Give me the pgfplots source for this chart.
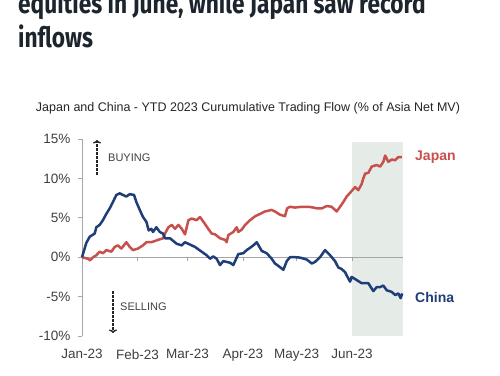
\documentclass[border=0pt]{standalone}
\usepackage{pgfplots}
\pgfplotsset{compat=1.18}
\usepackage{fontspec}
\setmainfont{Liberation Sans}
\newfontfamily\headfont{Fira Sans}
\usetikzlibrary{arrows.meta}
\definecolor{chinablue}{HTML}{1F3D78}
\definecolor{japanred}{HTML}{C8504C}
\definecolor{shadecol}{HTML}{E5ECE7}
\definecolor{axgray}{HTML}{A6A6A6}
\definecolor{txt}{HTML}{404040}
\definecolor{head}{HTML}{1C242E}

\pgfplotstableread{
day val
0 0
2.4 1.8
4.3 2.6
7.1 3.0
8.0 3.8
9.9 4.1
11.7 4.7
13.6 5.5
15.5 6.2
17.3 7.0
19.2 7.9
21.1 8.1
22.9 7.9
24.8 7.7
26.7 8.0
29.1 7.9
30.4 7.0
32.3 6.0
34.1 5.1
36.0 4.5
37.3 3.4
38.8 3.6
39.7 3.2
41.6 3.8
43.5 3.2
45.3 3.0
46.4 2.4
49.2 2.4
53.0 1.7
55.8 1.5
57.6 1.9
59.5 1.7
63.2 1.3
66.9 0.7
69.7 0.25
71.6 -0.2
73.4 0.1
75.3 -0.2
77.2 -1.0
79.0 -0.5
82.8 -0.7
84.6 -1.0
87.4 0.4
90.2 0.5
92.1 0.9
94.0 1.2
95.8 1.5
97.7 1.9
100.5 0.8
103.3 0.5
106.1 -0.2
107.9 -0.8
109.8 -1.1
112.6 -1.6
114.5 -0.5
116.3 0.0
119.1 0.0
121.9 -0.05
125.7 -0.3
128.5 -0.8
130.3 -0.6
133.1 0
135.9 0.9
138.7 0.25
141.5 -0.5
143.3 -1.3
145.2 -1.5
147.1 -1.9
148.9 -2.7
149.9 -3.1
150.8 -2.5
153.6 -2.9
156.4 -3.3
160.1 -3.3
162.9 -4.3
164.8 -3.8
166.7 -3.8
168.5 -3.6
170.4 -4.2
173.2 -4.4
175.1 -4.8
176.9 -4.6
178.2 -5.2
179.1 -4.6
}\china

\pgfplotstableread{
day val
0 0
3.4 -0.2
4.5 -0.4
6.2 0
8.0 0.25
9.9 0.7
11.7 0.5
13.6 0.9
16.4 0.7
18.3 1.3
20.1 1.5
22.0 1.1
24.8 1.9
26.7 1.3
28.5 0.9
31.3 1.1
34.1 1.5
36.0 1.9
38.8 1.9
42.5 2.2
45.3 2.4
46.4 3.0
48.3 3.8
50.2 4.1
52.0 3.6
53.9 4.1
55.8 3.6
57.6 2.9
59.5 4.7
61.4 4.9
64.1 4.7
66.0 5.1
68.8 4.2
70.6 3.6
72.5 3.0
74.4 2.9
77.2 2.4
80.0 2.2
80.9 1.9
81.8 2.8
84.6 3.2
86.5 3.8
87.4 3.2
89.3 3.5
91.2 4.1
94.0 4.7
96.8 5.2
99.6 5.5
102.3 5.8
104.2 5.9
106.1 6.0
107.9 5.8
110.7 5.4
113.5 5.2
114.7 6.2
116.3 6.4
119.1 6.3
122.9 6.4
126.6 6.4
129.4 6.3
131.3 6.2
134.1 6.2
136.9 6.5
139.6 6.4
142.4 5.8
144.3 6.4
146.1 7.0
148.0 7.7
150.8 8.4
152.7 8.9
154.5 8.5
156.4 9.3
157.3 10.0
158.3 10.6
160.1 10.7
162.0 11.5
164.8 11.7
166.7 11.5
168.5 12.1
169.5 12.9
171.3 12.1
173.2 12.4
175.1 12.3
176.9 12.7
178.8 12.7
}\japan

\begin{document}
\begin{tikzpicture}[x=1pt,y=1pt]
\clip (0,0) rectangle (500,375);
\fill[white] (0,0) rectangle (500,375);
\node[anchor=base west, inner sep=0, text=head, font=\headfont\bfseries\fontsize{28}{28}\selectfont] at (18,361) {\scalebox{0.81}[1]{equities in June, while Japan saw record}};
\node[anchor=base west, inner sep=0, text=head, font=\headfont\bfseries\fontsize{28}{28}\selectfont] at (18,327) {\scalebox{0.81}[1]{inflows}};
\node[font=\fontsize{12.5}{12.5}\selectfont, text=black!85, inner sep=0] at (248,267) {Japan and China - YTD 2023 Curumulative Trading Flow (\% of Asia Net MV)};

\begin{axis}[
  at={(82pt,39pt)}, anchor=south west,
  scale only axis, width=321pt, height=197pt,
  xmin=0, xmax=179.5, ymin=-10, ymax=15,
  axis lines*=left,
  x axis line style={draw=none},
  y axis line style={axgray, line width=0.8pt},
  xtick={0,31,59,90,120,151},
  xticklabels={Jan-23,Feb-23,Mar-23,Apr-23,May-23,Jun-23},
  xtick style={draw=none},
  xticklabel style={yshift=-6pt},
  ytick={-10,-5,0,5,10,15},
  yticklabel={\pgfmathprintnumber{\tick}\%},
  yticklabel style={xshift=-4pt},
  ytick style={axgray, line width=0.8pt},
  tick align=outside,
  major tick length=4pt,
  /pgf/number format/assume math mode=true,
  tick label style={font=\fontsize{13.5}{13.5}\selectfont, text=txt},
  clip=false,
]
\fill[shadecol] (axis cs:151,-10) rectangle (axis cs:179.5,14.6);
\draw[axgray, line width=0.8pt] (axis cs:0,0) -- (axis cs:179.5,0);
\pgfplotsinvokeforeach{31,59,90,120,151}{\draw[axgray, line width=0.8pt] (axis cs:#1,0) -- ([yshift=-4pt]axis cs:#1,0);}
\addplot[japanred, line width=2.5pt, line join=round] table[x=day,y=val] {\japan};
\addplot[chinablue, line width=2.5pt, line join=round] table[x=day,y=val] {\china};
\end{axis}

\draw[black!85, line width=1.4pt, dash pattern=on 2.5pt off 1.5pt, -{To[length=3.5pt,width=8pt]}] (97,200) -- (97,235);
\node[anchor=west, inner sep=0, font=\fontsize{11}{11}\selectfont, text=txt] at (108,217) {BUYING};
\draw[black!85, line width=1.4pt, dash pattern=on 2.5pt off 1.5pt, -{To[length=3.5pt,width=8pt]}] (113,84) -- (113,42);
\node[anchor=west, inner sep=0, font=\fontsize{11}{11}\selectfont, text=txt] at (120,68) {SELLING};
\node[anchor=west, inner sep=0, font=\bfseries\fontsize{14}{14}\selectfont, text=japanred] at (415,218) {Japan};
\node[anchor=west, inner sep=0, font=\bfseries\fontsize{14}{14}\selectfont, text=chinablue] at (415,78) {China};
\end{tikzpicture}
\end{document}
